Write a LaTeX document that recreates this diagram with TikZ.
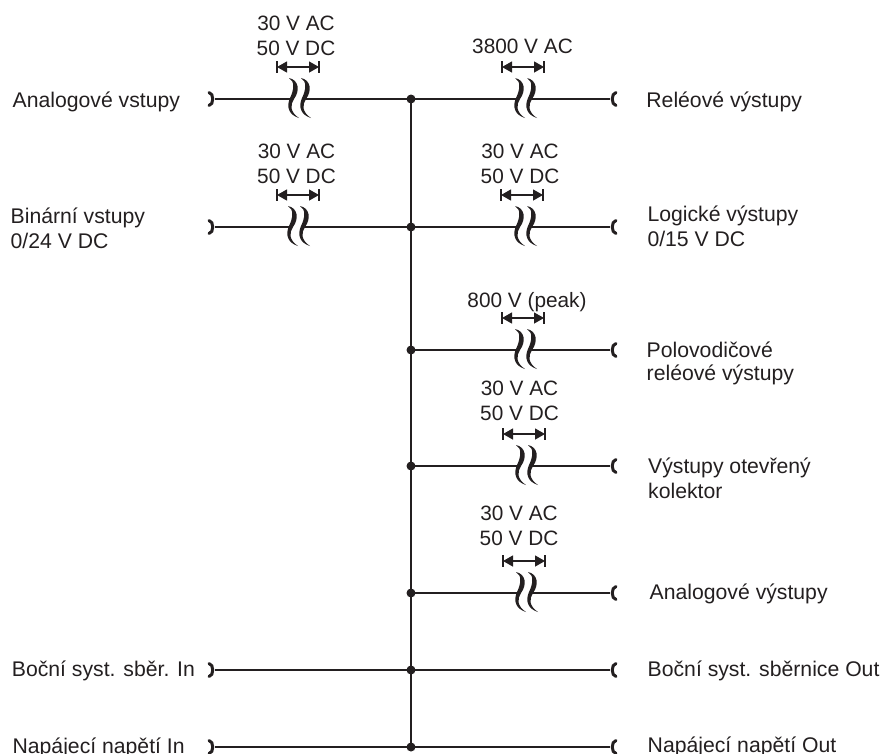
\documentclass[tikz,border=0pt]{standalone}
\usepackage{fontspec}
\setmainfont{Liberation Sans}
\usetikzlibrary{arrows.meta}
\definecolor{ink}{HTML}{231F20}
\tikzset{
  wire/.style={draw=ink,line width=2.8pt},
  capend/.style={draw=ink,line width=3pt,line cap=round},
  dotnode/.style={circle,fill=ink,inner sep=0pt,minimum size=9pt},
  lbl/.style={anchor=base west,inner sep=0pt,align=left,text=ink,font=\fontsize{21.2}{25}\selectfont},
  vlt/.style={anchor=base,inner sep=0pt,align=center,text=ink,font=\fontsize{20.8}{25}\selectfont},
  dimline/.style={draw=ink,line width=1.3pt,{Triangle[length=10pt,width=11pt]}-{Triangle[length=10pt,width=11pt]}},
  dimbar/.style={draw=ink,line width=2.6pt}
}
% #1 name, #2 x of the left edge of the first wave, #3 row y, #4 x of the dimension's left bar
\newcommand\gapsym[4]{%
  \foreach \dx in {0,12}{%
    \fill[ink,shift={(#2+\dx,#3)}] (0,-21) .. controls (10,-19) and (11,-8) .. (5,0)
      .. controls (1,6) and (1,13) .. (10,19)
      .. controls (0,16) and (-3,8) .. (1,-1)
      .. controls (5,-9) and (6,-18) .. (0,-21) -- cycle;
  }%
  \coordinate (#1-l) at (#2+3,#3);
  \coordinate (#1-r) at (#2+15,#3);
  \coordinate (#1-a) at (#4,#3-32);
  \coordinate (#1-b) at (#4+42,#3-32);
  \draw[dimbar] (#4,#3-38) -- (#4,#3-26);
  \draw[dimbar] (#4+42,#3-38) -- (#4+42,#3-26);
  \draw[dimline] (#1-a) -- (#1-b);
}
\newcommand\capleft[3]{% name, x (inner), y
  \coordinate (#1) at (#2,#3);
  \draw[capend] (#2-6,#3-6.5) .. controls (#2-1,#3-6) and (#2-1,#3+6) .. (#2-6,#3+6.5);
}
\newcommand\capright[3]{%
  \coordinate (#1) at (#2,#3);
  \draw[capend] (#2+6,#3-6.5) .. controls (#2+1,#3-6) and (#2+1,#3+6) .. (#2+6,#3+6.5);
}
\begin{document}
\begin{tikzpicture}[x=1pt,y=-1pt]
\useasboundingbox (0,0) rectangle (882,753);
% labels (position = baseline of the last line)
\node[lbl] (l1) at (12.5,107) {Analogové vstupy};
\node[lbl] (l2) at (10.5,248) {Binární vstupy\\0/24 V DC};
\node[lbl] (l3) at (11.7,676) {Boční syst. sběr. In};
\node[lbl] (l4) at (12.4,753) {Napájecí napětí In};
\node[lbl] (r1) at (646.2,107) {Reléové výstupy};
\node[lbl] (r2) at (647.3,246) {Logické výstupy\\0/15 V DC};
\node[lbl] (r3) at (646.5,380.5) {Polovodičové\\[-1.5pt]reléové výstupy};
\node[lbl] (r4) at (648,498) {Výstupy otevřený\\kolektor};
\node[lbl] (r5) at (649.5,599) {Analogové výstupy};
\node[lbl] (r6) at (647.5,676) {Boční syst. sběrnice Out};
\node[lbl] (r7) at (647.5,752) {Napájecí napětí Out};
% voltages
\node[vlt] (v1) at (296,55) {30 V AC\\50 V DC};
\node[vlt] (v2) at (296.5,183) {30 V AC\\50 V DC};
\node[vlt] (v3) at (522.5,53) {3800 V AC};
\node[vlt] (v4) at (520,183) {30 V AC\\50 V DC};
\node[vlt] (v5) at (527,307) {800 V (peak)};
\node[vlt] (v6) at (519.5,420) {30 V AC\\50 V DC};
\node[vlt] (v7) at (519,545) {30 V AC\\[-0.5pt]50 V DC};
% junctions
\node[dotnode] (j1) at (411,99) {};
\node[dotnode] (j2) at (411,227) {};
\node[dotnode] (j3) at (411,350) {};
\node[dotnode] (j4) at (411,466) {};
\node[dotnode] (j5) at (411,593) {};
\node[dotnode] (j6) at (411,670) {};
\node[dotnode] (j7) at (411,747) {};
% wave gaps
\gapsym{g1}{289}{99}{277}
\gapsym{g2}{288}{227}{277}
\gapsym{g3}{515}{99}{502}
\gapsym{g4}{515}{227}{501}
\gapsym{g5}{515}{350}{502}
\gapsym{g6}{516}{466}{503}
\gapsym{g7}{516}{593}{503}
% connector ends
\capleft{a1}{215}{99}
\capleft{a2}{215}{227}
\capleft{a6}{215}{670}
\capleft{a7}{215}{747}
\capright{b1}{610}{99}
\capright{b2}{610}{227}
\capright{b3}{610}{350}
\capright{b4}{610}{466}
\capright{b5}{610}{593}
\capright{b6}{610}{670}
\capright{b7}{610}{747}
% connectors
\draw[wire] (j1.center) -- (j7.center);
\draw[wire] (a1) -- (g1-l);
\draw[wire] (g1-r) -- (j1.center) -- (g3-l);
\draw[wire] (g3-r) -- (b1);
\draw[wire] (a2) -- (g2-l);
\draw[wire] (g2-r) -- (j2.center) -- (g4-l);
\draw[wire] (g4-r) -- (b2);
\draw[wire] (j3.center) -- (g5-l);
\draw[wire] (g5-r) -- (b3);
\draw[wire] (j4.center) -- (g6-l);
\draw[wire] (g6-r) -- (b4);
\draw[wire] (j5.center) -- (g7-l);
\draw[wire] (g7-r) -- (b5);
\draw[wire] (a6) -- (j6.center) -- (b6);
\draw[wire] (a7) -- (j7.center) -- (b7);
\end{tikzpicture}
\end{document}
